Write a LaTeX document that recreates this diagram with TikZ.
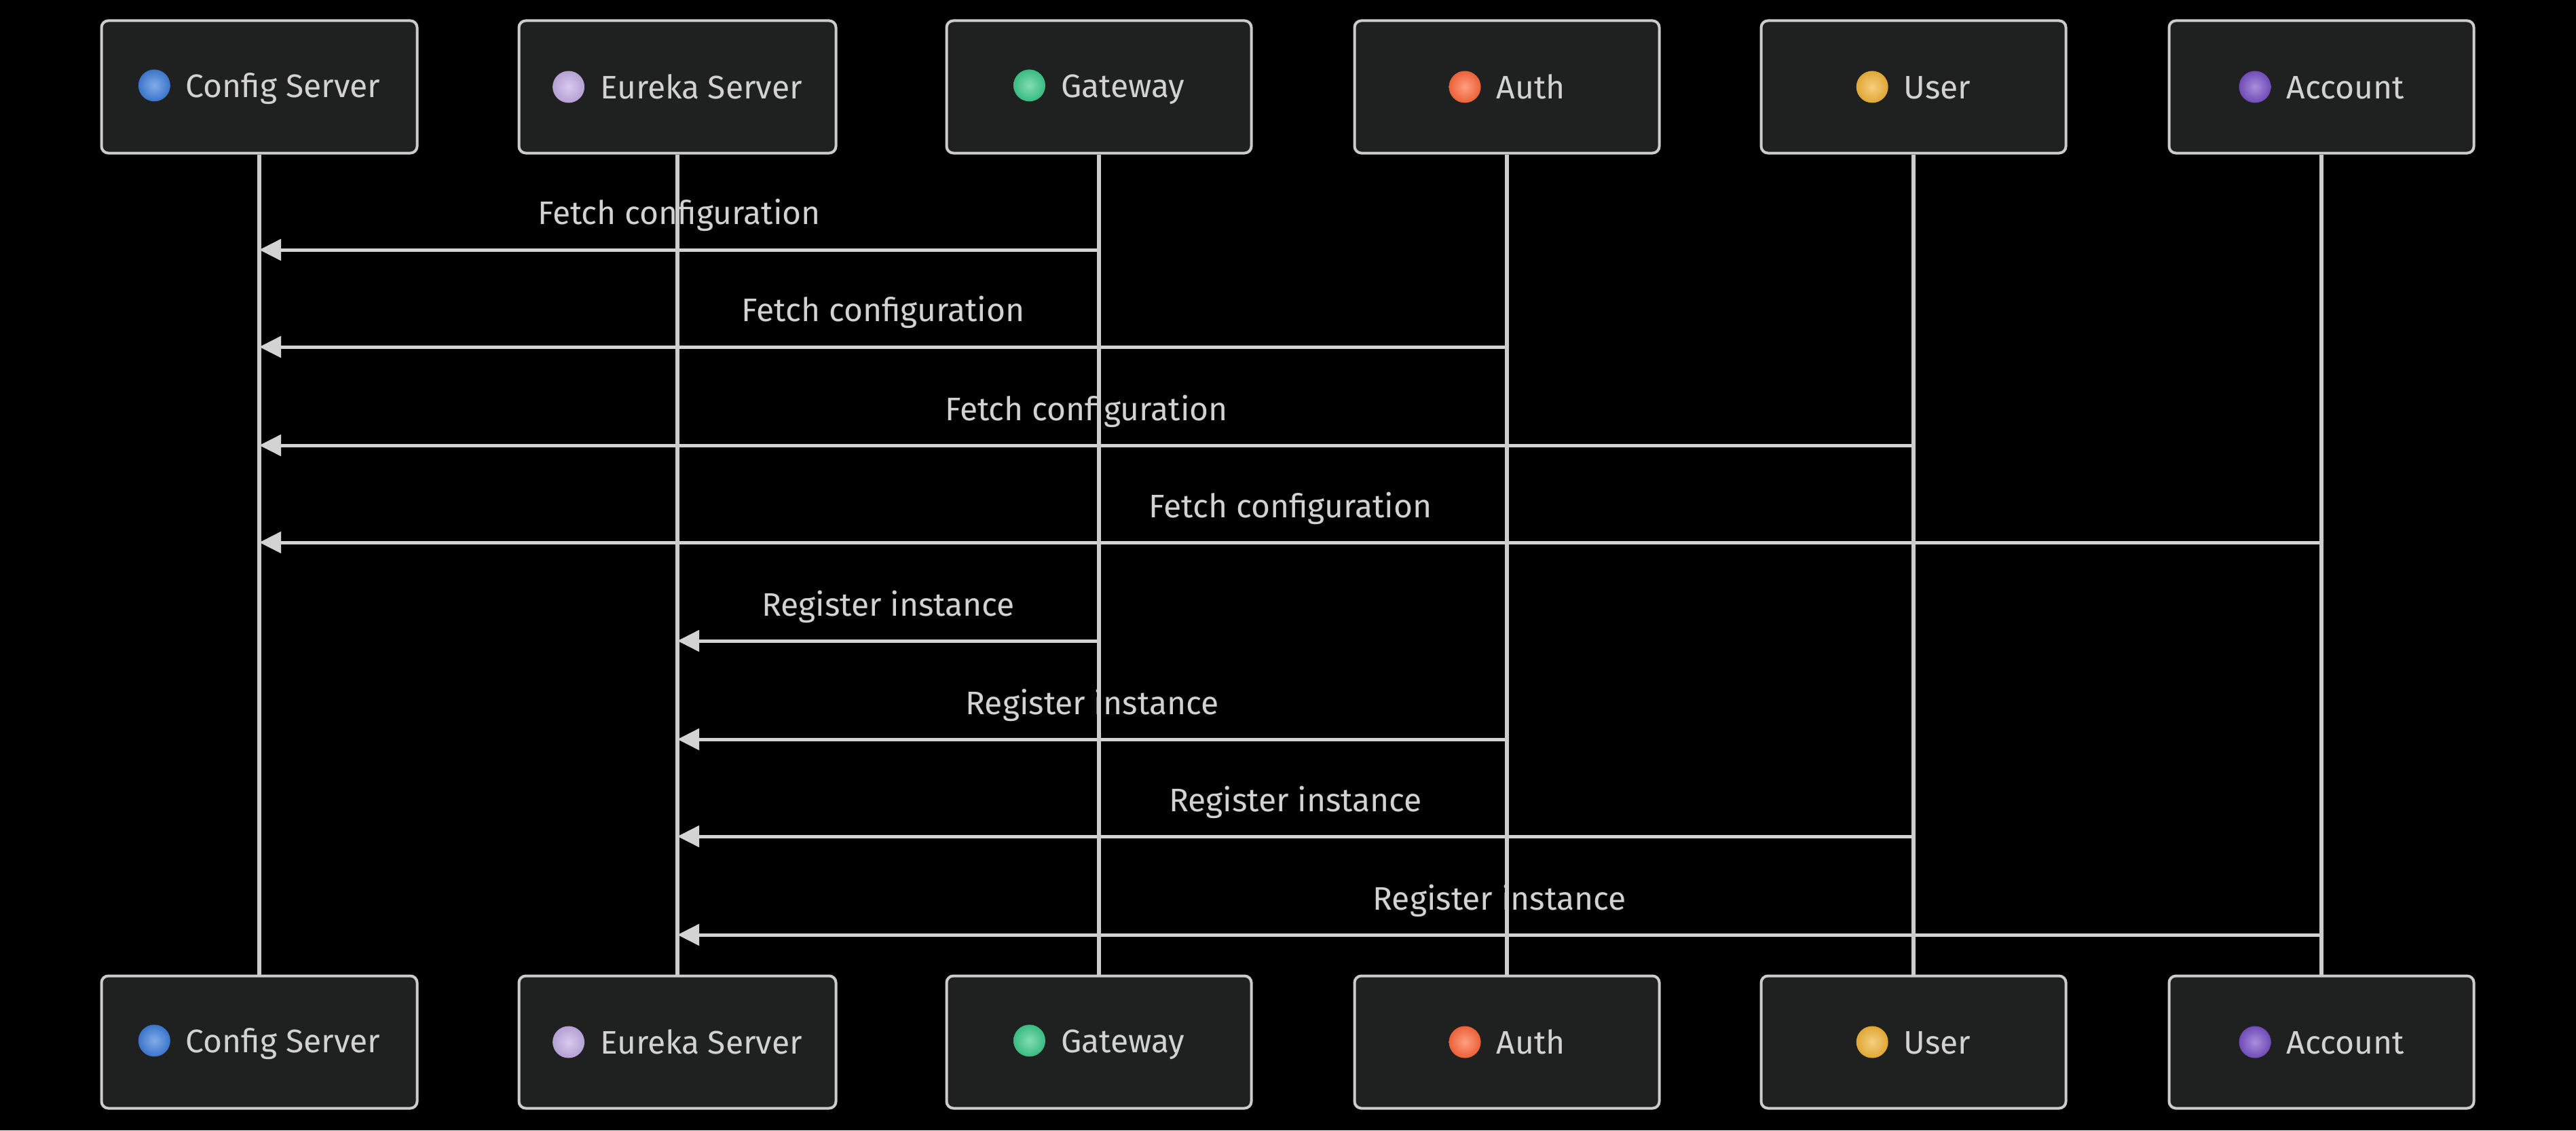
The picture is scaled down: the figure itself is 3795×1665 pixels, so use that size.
\documentclass[tikz,border=0pt]{standalone}
\usepackage{fontspec}
\setmainfont{Fira Sans}
\usetikzlibrary{arrows.meta,positioning}
\definecolor{boxfill}{HTML}{1F2020}
\definecolor{boxline}{HTML}{CCCCCC}
\definecolor{linecol}{HTML}{CCCCCC}
\definecolor{arrowcol}{HTML}{D3D3D3}
\definecolor{txtcol}{HTML}{D2D2D2}
\definecolor{cfgcol}{HTML}{3F7FDC}
\definecolor{eurcol}{HTML}{C4AEE6}
\definecolor{gwcol}{HTML}{3ECB8C}
\definecolor{authcol}{HTML}{FF6A3D}
\definecolor{usercol}{HTML}{F2B53A}
\definecolor{acctcol}{HTML}{7A52C8}
\tikzset{
  actorbox/.style={draw=boxline, fill=boxfill, line width=0.8pt, rounded corners=2pt,
    minimum height=39pt, inner sep=0pt, text=txtcol, font=\fontsize{9.6}{11}\selectfont},
  lifeline/.style={draw=linecol, line width=1.1pt},
  msg/.style={draw=arrowcol, line width=1pt, -{Triangle[length=6.4pt,width=6.2pt]}},
  msglabel/.style={text=txtcol, font=\fontsize{9.6}{11}\selectfont, anchor=base, inner sep=0pt}
}
\newcommand{\orb}[1]{\tikz[baseline=-3.5pt]\shade[inner color=#1!65!white, outer color=#1!92!black] (0,0) circle (4.7pt);\hspace{4.6pt}}

\begin{document}
\begin{tikzpicture}[x=0.2pt,y=-0.2pt]
\fill[black] (0,0) rectangle (3795,1665);
\useasboundingbox (0,0) rectangle (3795,1665);

% actors, top and bottom
\foreach \n/\x/\w/\c/\t in {cfg/382/465/cfgcol/Config Server, eur/998/467/eurcol/Eureka Server,
    gw/1619/449/gwcol/Gateway, auth/2220/449/authcol/Auth,
    user/2819/449/usercol/User, acct/3420/449/acctcol/Account}{
  \node[actorbox, minimum width=\w*0.2pt] (\n-top) at (\x,128) {\orb{\c}\t};
  \node[actorbox, minimum width=\w*0.2pt] (\n-bot) at (\x,1535) {\orb{\c}\t};
}

% messages
\foreach \s/\r/\y/\t in {gw/cfg/368/Fetch configuration, auth/cfg/511/Fetch configuration,
    user/cfg/656/Fetch configuration, acct/cfg/799/Fetch configuration,
    gw/eur/944/Register instance, auth/eur/1089/Register instance,
    user/eur/1232/Register instance, acct/eur/1377/Register instance}{
  \draw[msg] (\s-top |- 0,\y) -- (\r-top |- 0,\y)
    node[msglabel, midway, yshift=7.4pt] {\t};
}

% lifelines
\foreach \n in {cfg,eur,gw,auth,user,acct}
  \draw[lifeline] (\n-top) -- (\n-bot);

\end{tikzpicture}
\end{document}
